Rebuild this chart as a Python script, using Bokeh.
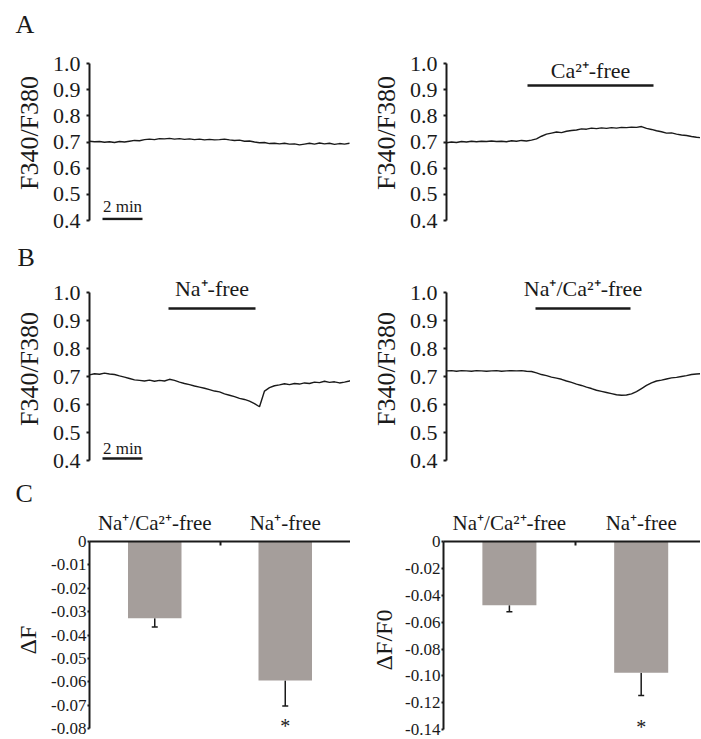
from bokeh.plotting import figure
from bokeh.layouts import column, row
from bokeh.models import (Range1d, FixedTicker, Label, ColumnDataSource, Whisker, TeeHead,
                          PrintfTickFormatter)
from bokeh.core.properties import value
from bokeh.embed import file_html
from bokeh.resources import INLINE

FONT = "Liberation Serif"
INK = "#1a1a1a"
BAR = "#a59e9b"

# ---------------- data ----------------
SAMPLE_MIN = 0.25  # minutes between samples

# A, control (left) F340/F380
a_ctrl_ratio = [0.703, 0.701, 0.702, 0.699, 0.701, 0.698, 0.702, 0.700, 0.703, 0.706,
                0.705, 0.709, 0.711, 0.709, 0.713, 0.712, 0.714, 0.711, 0.713, 0.710,
                0.712, 0.709, 0.711, 0.708, 0.710, 0.708, 0.709, 0.711, 0.708, 0.706,
                0.707, 0.703, 0.704, 0.700, 0.697, 0.698, 0.694, 0.695, 0.693, 0.695,
                0.692, 0.693, 0.689, 0.692, 0.695, 0.692, 0.696, 0.693, 0.695, 0.691,
                0.694, 0.692, 0.695]
# A, Ca2+-free (right)
a_ca_ratio = [0.697, 0.700, 0.698, 0.702, 0.700, 0.703, 0.701, 0.703, 0.702, 0.704,
              0.702, 0.703, 0.701, 0.705, 0.703, 0.706, 0.704, 0.707, 0.712, 0.722,
              0.730, 0.734, 0.738, 0.736, 0.741, 0.744, 0.746, 0.750, 0.749, 0.753,
              0.751, 0.754, 0.752, 0.755, 0.753, 0.756, 0.755, 0.757, 0.756, 0.759,
              0.752, 0.748, 0.743, 0.739, 0.734, 0.735, 0.730, 0.727, 0.725, 0.721,
              0.718, 0.716]
# B, Na+-free (left)
b_na_ratio = [0.706, 0.710, 0.708, 0.712, 0.709, 0.707, 0.702, 0.698, 0.693, 0.688,
              0.686, 0.684, 0.687, 0.683, 0.686, 0.684, 0.690, 0.686, 0.680, 0.675,
              0.671, 0.666, 0.662, 0.658, 0.653, 0.648, 0.645, 0.638, 0.633, 0.628,
              0.622, 0.618, 0.612, 0.603, 0.592, 0.648, 0.660, 0.667, 0.670, 0.674,
              0.671, 0.675, 0.673, 0.677, 0.675, 0.680, 0.678, 0.683, 0.679, 0.681,
              0.677, 0.680, 0.684, 0.690]
# B, Na+/Ca2+-free (right)
b_naca_ratio = [0.720, 0.721, 0.719, 0.721, 0.720, 0.719, 0.721, 0.720, 0.719, 0.720,
                0.721, 0.719, 0.720, 0.721, 0.720, 0.721, 0.719, 0.718, 0.713, 0.707,
                0.703, 0.698, 0.694, 0.690, 0.684, 0.679, 0.673, 0.668, 0.662, 0.657,
                0.651, 0.647, 0.643, 0.639, 0.635, 0.633, 0.634, 0.638, 0.646, 0.657,
                0.668, 0.677, 0.684, 0.687, 0.691, 0.695, 0.697, 0.700, 0.703, 0.707,
                0.709, 0.710]

trace_ticks = [0.4, 0.5, 0.6, 0.7, 0.8, 0.9, 1.0]
ca_free_window = (4.05, 10.35)     # minutes
na_free_window = (3.95, 8.3)
naca_free_window = (4.45, 9.2)
scale_bar_min = 2

categories = ["Na\u207a/Ca\u00b2\u207a-free", "Na\u207a-free"]
dF_mean = [-0.0328, -0.0594]
dF_sem = [0.0038, 0.0109]
dFF0_mean = [-0.0474, -0.0976]
dFF0_sem = [0.0049, 0.0170]
significance = ["", "*"]
dF_ticks = [0, -0.01, -0.02, -0.03, -0.04, -0.05, -0.06, -0.07, -0.08]
dFF0_ticks = [0, -0.02, -0.04, -0.06, -0.08, -0.10, -0.12, -0.14]

# ---------------- layout constants (pixels) ----------------
LW, RW = 350, 350


def base_fig(width, height, x_range, y_range, bl, bt, bb, xloc=None):
    p = figure(width=width, height=height, x_range=x_range, y_range=y_range,
               x_axis_location=xloc, output_backend="svg", toolbar_location=None,
               min_border_left=bl, min_border_right=0, min_border_top=bt,
               min_border_bottom=bb)
    p.grid.visible = False
    p.outline_line_color = None
    return p


def strip(height, letter, letter_x, center_from_top):
    p = figure(width=LW + RW, height=height, x_range=Range1d(0, LW + RW),
               y_range=Range1d(0, height), x_axis_location=None, y_axis_location=None,
               output_backend="svg", toolbar_location=None, min_border=0)
    p.grid.visible = False
    p.outline_line_color = None
    p.text(x=[letter_x], y=[height - center_from_top], text=[letter],
           text_font=value(FONT), text_font_size=value("26px"), text_color=INK,
           text_baseline="middle", text_align="left")
    return p


def add_label(p, x, y, text, size, align="center"):
    p.add_layout(Label(x=x, y=y, text=text, text_font=FONT, text_font_size=size,
                       text_color=INK, text_align=align, text_baseline="middle"))


def style_yaxis(ax, label, tick_size, label_size, standoff, label_standoff, tick_out=3):
    ax.axis_label = label
    ax.axis_label_text_font = FONT
    ax.axis_label_text_font_size = label_size
    ax.axis_label_text_font_style = "normal"
    ax.axis_label_text_color = INK
    ax.axis_label_standoff = label_standoff
    ax.major_label_text_font = FONT
    ax.major_label_text_font_size = tick_size
    ax.major_label_text_color = INK
    ax.major_label_standoff = standoff
    ax.axis_line_width = 2
    ax.axis_line_color = INK
    ax.major_tick_line_color = INK
    ax.major_tick_line_width = 2
    ax.major_tick_in = 0
    ax.major_tick_out = tick_out
    ax.minor_tick_line_color = None
    ax.minor_tick_in = 0
    ax.minor_tick_out = 0


def trace_fig(vals, width, height, bl, bb, axis_top_px):
    """axis_top_px: pixels between frame top and the 1.0 tick"""
    fh = height - bb
    fw = width - bl
    lo, hi = trace_ticks[0], trace_ticks[-1]
    per_px = (hi - lo) / (fh - axis_top_px)
    p = base_fig(width, height, Range1d(0, fw / 20.0),
                 Range1d(lo, hi + axis_top_px * per_px), bl, 0, bb)
    ax = p.yaxis[0]
    ax.ticker = FixedTicker(ticks=trace_ticks)
    ax.formatter = PrintfTickFormatter(format="%.1f")
    ax.bounds = (lo, hi)
    style_yaxis(ax, "F340/F380", "22px", "26px", 6, 6)
    t = [i * SAMPLE_MIN for i in range(len(vals))]
    p.line(t, vals, line_color=INK, line_width=1.4)
    p._per_px = per_px
    return p


def add_condition(p, window, text, px_text_above_axis, px_bar_below_axis):
    top = trace_ticks[-1]
    yb = top - px_bar_below_axis * p._per_px
    yt = top + px_text_above_axis * p._per_px
    p.segment(x0=[window[0]], x1=[window[1]], y0=[yb], y1=[yb], line_color=INK, line_width=2.6)
    add_label(p, (window[0] + window[1]) / 2, yt, text, "22px")


def add_scale_bar(p, x0, px_bar_above_bottom, px_text_above_bottom):
    lo = trace_ticks[0]
    yb = lo + px_bar_above_bottom * p._per_px
    yt = lo + px_text_above_bottom * p._per_px
    p.segment(x0=[x0], x1=[x0 + scale_bar_min], y0=[yb], y1=[yb], line_color=INK, line_width=2.4)
    add_label(p, x0 + scale_bar_min / 2, yt, f"{scale_bar_min} min", "17px")


def bar_fig(means, sems, ticks, ylabel, width, height, bl, bt, x_end, axis_px,
            label_standoff, star_offset):
    fh = height - bt
    per_px = (ticks[0] - ticks[-1]) / axis_px
    p = base_fig(width, height, Range1d(0, x_end),
                 Range1d(ticks[-1] - (fh - axis_px) * per_px, ticks[0]), bl, bt, 0,
                 xloc="above")
    xs = [i + 0.5 for i in range(len(categories))]
    ay = p.yaxis[0]
    ay.ticker = FixedTicker(ticks=ticks)
    ay.formatter = PrintfTickFormatter(format="%.2f")
    ay.major_label_overrides = {0: "0"}
    ay.bounds = (ticks[-1], ticks[0])
    style_yaxis(ay, ylabel, "17px", "24px", 1, label_standoff, tick_out=2)
    xa = p.xaxis[0]
    xa.ticker = FixedTicker(ticks=xs, minor_ticks=[1.0])
    xa.major_label_overrides = {x: c for x, c in zip(xs, categories)}
    xa.major_label_text_font = FONT
    xa.major_label_text_font_size = "21px"
    xa.major_label_text_color = INK
    xa.major_label_standoff = 7
    xa.major_tick_line_color = None
    xa.major_tick_in = 0
    xa.major_tick_out = 0
    xa.axis_label_standoff = 0
    xa.minor_tick_line_color = INK
    xa.minor_tick_line_width = 2
    xa.minor_tick_in = 4
    xa.minor_tick_out = 0
    xa.axis_line_width = 2
    xa.axis_line_color = INK
    src = ColumnDataSource(dict(x=xs, mean=means, low=[m - s for m, s in zip(means, sems)],
                                sig=significance))
    p.add_layout(Whisker(source=src, base="x", upper="mean", lower="low", dimension="height",
                         upper_head=None, line_color=INK, line_width=1.5,
                         lower_head=TeeHead(size=6, line_color=INK, line_width=1.5)))
    p.vbar(x="x", top=0, bottom="mean", width=0.41, source=src, fill_color=BAR,
           line_color=None)
    p.text(x="x", y="low", text="sig", source=src, text_font=value(FONT),
           text_font_size=value("20px"), text_color=INK, text_align="center",
           text_baseline="middle", y_offset=star_offset)
    return p


# ---------------- panels ----------------
sA = strip(45, "A", 15, 23.5)

pa1 = trace_fig(a_ctrl_ratio, LW, 187, 89, 12, 18)
add_scale_bar(pa1, 0.65, 1.5, 14.5)

pa2 = trace_fig(a_ca_ratio, RW, 187, 96, 12, 18)
add_condition(pa2, ca_free_window, "Ca\u00b2\u207a-free", -7, 22)

sB = strip(45, "B", 17, 24.5)

pb1 = trace_fig(b_na_ratio, LW, 197, 89, 14, 15)
add_condition(pb1, na_free_window, "Na\u207a-free", 4, 16)
add_scale_bar(pb1, 0.65, 2, 12.5)

pb2 = trace_fig(b_naca_ratio, RW, 197, 96, 14, 15)
add_condition(pb2, naca_free_window, "Na\u207a/Ca\u00b2\u207a-free", 4, 16)

sC = strip(33, "C", 15, 18.5)

pc1 = bar_fig(dF_mean, dF_sem, dF_ticks, "\u0394F", LW, 231, 89, 31, 2.0, 190, 7, 20)
pc2 = bar_fig(dFF0_mean, dFF0_sem, dFF0_ticks, "\u0394F/F0", RW, 231, 93, 31, 1.95, 191, 5, 31)

layout = column(sA, row(pa1, pa2), sB, row(pb1, pb2), sC, row(pc1, pc2))

open("out.html", "w").write(file_html(layout, INLINE))
